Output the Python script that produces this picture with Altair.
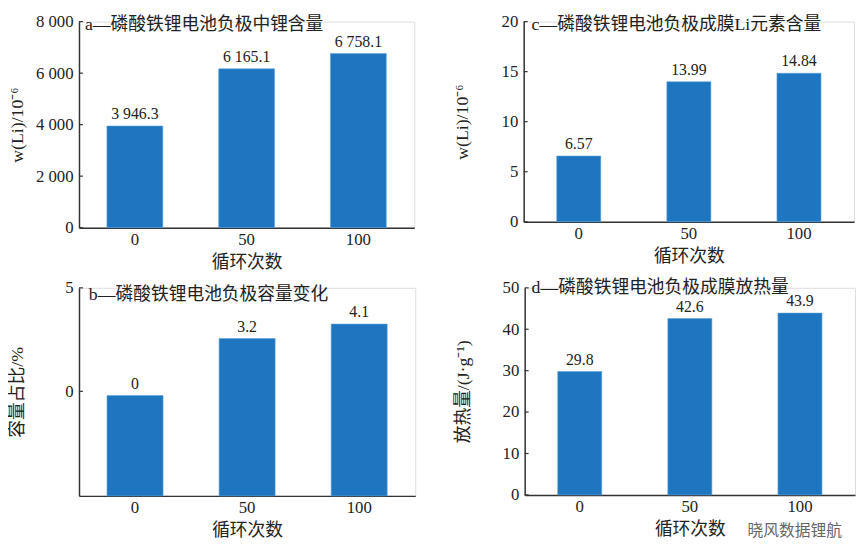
import altair as alt
import pandas as pd

# ---------------- data ----------------
cycles = ["0", "50", "100"]

li_content = [3946.3, 6165.1, 6758.1]          # a
li_labels = ["3 946.3", "6 165.1", "6 758.1"]

cap_bar = [-0.2, 2.55, 3.25]                   # b (bar heights as drawn)
cap_labels = ["0", "3.2", "4.1"]

film_li = [6.57, 13.99, 14.84]                 # c
film_labels = ["6.57", "13.99", "14.84"]

heat = [29.8, 42.6, 43.9]                      # d
heat_labels = ["29.8", "42.6", "43.9"]

ticks_a = [0, 2000, 4000, 6000, 8000]
ticks_b = [0, 5]
ticks_c = [0, 5, 10, 15, 20]
ticks_d = [0, 10, 20, 30, 40, 50]

title_a = "a—磷酸铁锂电池负极中锂含量"
title_b = "b—磷酸铁锂电池负极容量变化"
title_c = "c—磷酸铁锂电池负极成膜Li元素含量"
title_d = "d—磷酸铁锂电池负极成膜放热量"

ytitle_a = "w(Li)/10⁻⁶"
ytitle_b = "容量占比/%"
ytitle_c = "w(Li)/10⁻⁶"
ytitle_d = "放热量/(J·g⁻¹)"
xtitle = "循环次数"
watermark = "晓风数据锂航"

# ---------------- style ----------------
SERIF = "Liberation Serif"
MIXED = "Liberation Serif, Noto Sans CJK SC"
BAR = "#1d76bf"
INK = "#222222"
AXIS = "#333333"


def panel(vals, labels, ymin, ymax, ticks, title, ytitle, w, h, pad_inner,
          title_dx, title_dy, thousands=False, extra=None):
    df = pd.DataFrame({"cycle": cycles, "value": vals, "label": labels})
    base = alt.Chart(df)
    label_expr = "replace(format(datum.value, ','), ',', ' ')" if thousands else "format(datum.value, '')"
    x = alt.X(
        "cycle:N", sort=cycles,
        scale=alt.Scale(paddingInner=pad_inner, paddingOuter=pad_inner / 2),
        axis=alt.Axis(title=xtitle, labelAngle=0, ticks=False, labelPadding=4,
                      titlePadding=6, labelFont=SERIF, labelFontSize=17,
                      labelColor=INK, titleFont=MIXED, titleFontSize=18,
                      titleFontWeight="normal", titleColor=INK,
                      domainColor=AXIS, domainWidth=1.5),
    )
    y = alt.Y(
        "value:Q",
        scale=alt.Scale(domain=[ymin, ymax], nice=False, zero=False),
        axis=alt.Axis(values=ticks, title=ytitle, ticks=False, grid=False,
                      labelExpr=label_expr, labelPadding=6,
                      minExtent=48, maxExtent=48, titlePadding=5,
                      labelFont=SERIF, labelFontSize=17, labelColor=INK,
                      titleFont=MIXED, titleFontSize=18, titleFontWeight="normal",
                      titleColor=INK, domainColor=AXIS, domainWidth=1.5),
    )
    bars = base.mark_bar(color=BAR, stroke="#5fa3dc", strokeWidth=0.6).encode(
        x=x, y=y, y2=alt.datum(ymin))
    text = base.mark_text(baseline="bottom", dy=-4, font=SERIF, fontSize=16,
                          color=INK).encode(x=x, y=y, text="label:N")
    tk = alt.Chart(pd.DataFrame({"value": ticks})).mark_rule(
        color=AXIS, strokeWidth=1.2).encode(y=y, x=alt.value(0), x2=alt.value(4))
    ttl = alt.Chart(pd.DataFrame({"t": [title]})).mark_text(
        align="left", baseline="middle", font=MIXED, fontSize=18, color=INK
    ).encode(text="t:N", x=alt.value(title_dx), y=alt.value(title_dy))
    layers = [bars, text, tk, ttl]
    if extra is not None:
        layers.append(extra)
    return alt.layer(*layers).properties(width=w, height=h)


wm = alt.Chart(pd.DataFrame({"t": [watermark]})).mark_text(
    align="left", baseline="middle", font="Noto Sans CJK SC", fontSize=16,
    color="#666666").encode(text="t:N", x=alt.value(226), y=alt.value(247))

pa = panel(li_content, li_labels, 0, 8000, ticks_a, title_a, ytitle_a, 340, 209, 0.5, 6, 4, thousands=True)
pc = panel(film_li, film_labels, 0, 20, ticks_c, title_c, ytitle_c, 335, 203, 0.6, 8, 4)
pb = panel(cap_bar, cap_labels, -5.05, 5, ticks_b, title_b, ytitle_b, 341, 211, 0.5, 10, 7)
pd_ = panel(heat, heat_labels, 0, 50, ticks_d, title_d, ytitle_d, 335, 210, 0.6, 7, 0, extra=wm)

chart = alt.vconcat(
    alt.hconcat(pa, pc, spacing=38),
    alt.hconcat(pb, pd_, spacing=38),
    spacing=6,
).properties(padding=0).configure_view(stroke=None).configure(background="white")

chart.save("out.html", embed_options={"renderer": "svg", "actions": False})
